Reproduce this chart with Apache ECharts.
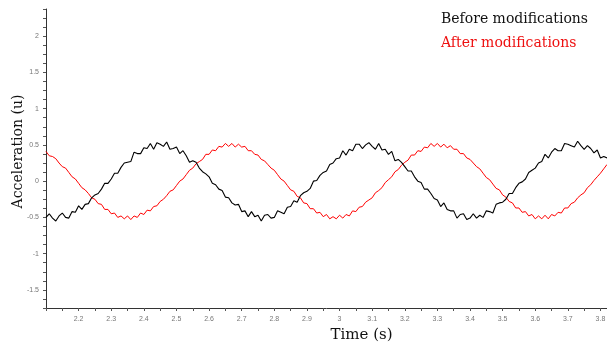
<!DOCTYPE html>
<html><head><meta charset="utf-8">
<script src="https://cdn.jsdelivr.net/npm/echarts@6/dist/echarts.min.js"></script>
<style>html,body{margin:0;padding:0;background:#fff}#c{width:607px;height:345px}</style>
</head><body><div id="c"></div>
<script>
// sampling grid of the recorded signals (seconds)
var tStart = 2.10;
var tStep = 0.01;
var seriesNames = ['Before modifications', 'After modifications'];
var xTickLabels = ['2.2','2.3','2.4','2.5','2.6','2.7','2.8','2.9','3','3.1','3.2','3.3','3.4','3.5','3.6','3.7','3.8'];
var yTickLabels = ['-1.5','-1','-0.5','0','0.5','1','1.5','2'];

var before = [-0.50,-0.45,-0.51,-0.55,-0.48,-0.44,-0.50,-0.51,-0.42,-0.43,
-0.34,-0.39,-0.32,-0.31,-0.23,-0.19,-0.17,-0.11,-0.03,-0.03,
0.03,0.11,0.11,0.19,0.25,0.26,0.27,0.40,0.38,0.38,
0.46,0.45,0.52,0.44,0.53,0.51,0.48,0.54,0.44,0.45,
0.47,0.38,0.42,0.35,0.26,0.28,0.26,0.18,0.13,0.10,
0.06,-0.03,-0.05,-0.11,-0.13,-0.22,-0.23,-0.30,-0.33,-0.32,
-0.42,-0.41,-0.49,-0.42,-0.49,-0.47,-0.55,-0.47,-0.46,-0.51,
-0.50,-0.41,-0.43,-0.45,-0.36,-0.35,-0.27,-0.29,-0.20,-0.16,
-0.14,-0.10,0.00,0.01,0.08,0.12,0.14,0.23,0.25,0.31,
0.32,0.42,0.36,0.44,0.42,0.51,0.51,0.45,0.50,0.53,
0.48,0.44,0.52,0.43,0.44,0.37,0.41,0.28,0.30,0.26,
0.20,0.14,0.14,0.06,0.00,-0.02,-0.11,-0.11,-0.17,-0.24,
-0.26,-0.35,-0.30,-0.39,-0.41,-0.41,-0.51,-0.46,-0.45,-0.53,
-0.51,-0.45,-0.51,-0.47,-0.50,-0.41,-0.42,-0.44,-0.32,-0.30,
-0.29,-0.25,-0.17,-0.17,-0.09,-0.03,-0.01,0.03,0.12,0.15,
0.18,0.25,0.27,0.37,0.32,0.40,0.45,0.42,0.42,0.52,
0.51,0.49,0.47,0.55,0.49,0.44,0.49,0.45,0.39,0.43,
0.32,0.34,0.32];

var after = [0.41,0.35,0.34,0.31,0.25,0.20,0.18,0.12,0.06,0.03,
-0.03,-0.09,-0.12,-0.17,-0.23,-0.25,-0.31,-0.32,-0.39,-0.39,
-0.45,-0.44,-0.50,-0.48,-0.52,-0.48,-0.53,-0.48,-0.50,-0.44,
-0.46,-0.40,-0.41,-0.35,-0.34,-0.28,-0.25,-0.20,-0.14,-0.12,
-0.06,0.00,0.03,0.09,0.15,0.18,0.24,0.27,0.30,0.37,
0.37,0.43,0.42,0.48,0.47,0.52,0.48,0.52,0.47,0.51,
0.47,0.48,0.42,0.42,0.37,0.36,0.30,0.28,0.23,0.18,
0.15,0.09,0.03,0.00,-0.06,-0.12,-0.14,-0.21,-0.23,-0.30,
-0.31,-0.38,-0.38,-0.44,-0.43,-0.49,-0.46,-0.52,-0.49,-0.52,
-0.47,-0.51,-0.46,-0.48,-0.41,-0.42,-0.36,-0.35,-0.29,-0.26,
-0.23,-0.16,-0.13,-0.09,-0.02,0.02,0.06,0.13,0.16,0.22,
0.26,0.29,0.36,0.36,0.42,0.41,0.47,0.46,0.52,0.48,
0.52,0.47,0.51,0.46,0.49,0.44,0.44,0.38,0.38,0.32,
0.30,0.25,0.20,0.17,0.11,0.05,0.02,-0.04,-0.10,-0.12,
-0.19,-0.22,-0.28,-0.30,-0.37,-0.37,-0.43,-0.42,-0.48,-0.46,
-0.52,-0.48,-0.52,-0.47,-0.52,-0.46,-0.48,-0.43,-0.44,-0.37,
-0.37,-0.31,-0.29,-0.23,-0.19,-0.16,-0.09,-0.05,0.01,0.06,
0.11,0.17,0.23];

function pairs(arr){ return arr.map(function(v,i){ return [+(tStart + i*tStep).toFixed(3), v]; }); }
function fmt(v){ return (Math.round(v*1000)/1000).toString(); }

var serif = '"DejaVu Serif", "Liberation Serif", serif';
var chart = echarts.init(document.getElementById('c'), null, {renderer:'canvas'});
chart.setOption({
  animation:false,
  backgroundColor:'#fff',
  grid:{left:46, right:0, top:9, bottom:37, containLabel:false, outerBoundsMode:'none'},
  legend:{
    orient:'vertical', left:431, top:7, itemGap:10, itemWidth:0, itemHeight:0, icon:'none',
    selectedMode:false,
    textStyle:{fontFamily:serif, fontSize:14},
    data:[
      {name:seriesNames[0], textStyle:{color:'#111'}},
      {name:seriesNames[1], textStyle:{color:'#ee1111'}}
    ]
  },
  xAxis:{
    type:'value', min:2.1, max:3.82, interval:0.05,
    name:'Time (s)', nameLocation:'middle', nameGap:20,
    nameTextStyle:{fontFamily:serif, fontSize:15, color:'#111', padding:[0,0,0,70]},
    axisLine:{onZero:false, lineStyle:{color:'#333', width:1}},
    axisTick:{length:3, lineStyle:{color:'#555'}},
    splitLine:{show:false},
    axisLabel:{fontSize:7, color:'#777', margin:8, fontFamily:'Arial, "Liberation Sans", sans-serif',
      formatter:function(v){ var s=fmt(v); return xTickLabels.indexOf(s)>=0 ? s : ''; }}
  },
  yAxis:{
    type:'value', min:-1.75, max:2.375, interval:0.125,
    name:'Acceleration (u)', nameLocation:'middle', nameGap:21, nameMoveOverlap:false,
    nameTextStyle:{fontFamily:serif, fontSize:14, color:'#111', padding:[0,0,0,14]},
    axisLine:{show:true, onZero:false, lineStyle:{color:'#333', width:1}},
    axisTick:{show:true, length:3, lineStyle:{color:'#555'}},
    splitLine:{show:false},
    axisLabel:{fontSize:7, color:'#777', margin:7, fontFamily:'Arial, "Liberation Sans", sans-serif',
      formatter:function(v){ var s=fmt(v); return yTickLabels.indexOf(s)>=0 ? s : ''; }}
  },
  series:[
    {name:seriesNames[0], type:'line', data:pairs(before), showSymbol:false, symbol:'none',
     lineStyle:{color:'#000', width:1.1}, itemStyle:{color:'#000'}, z:3},
    {name:seriesNames[1], type:'line', data:pairs(after), showSymbol:false, symbol:'none',
     lineStyle:{color:'#ff0000', width:1}, itemStyle:{color:'#ff0000'}, z:2}
  ]
});
</script></body></html>
